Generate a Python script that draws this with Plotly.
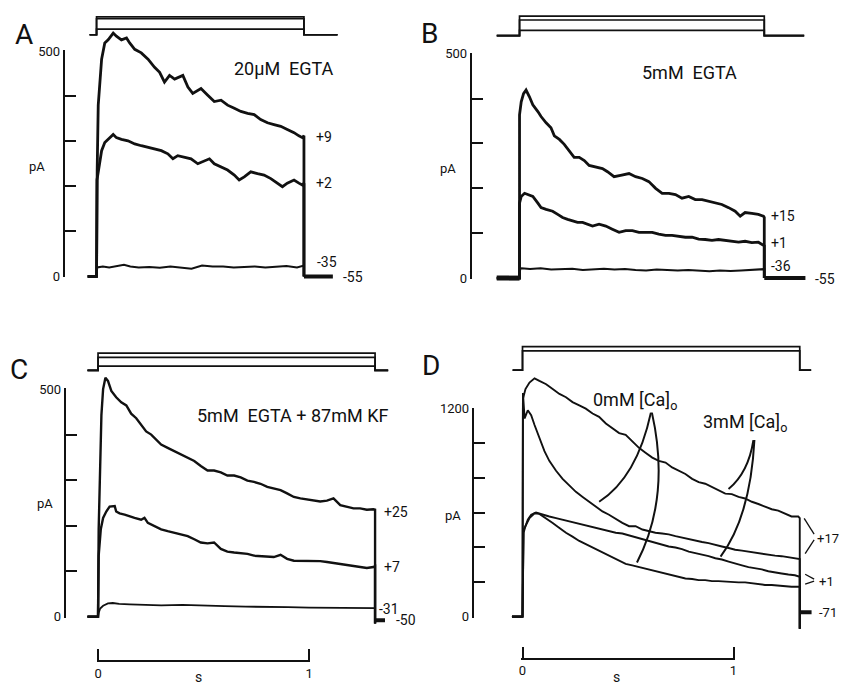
import plotly.graph_objects as go

W, H = 841, 690
FONT = "Roboto, Liberation Sans, DejaVu Sans, sans-serif"
INK = "#111111"

# ======================= DATA =======================
# ---- Panel A : 20 uM EGTA, holding -55 mV ----
A_title = "20\u00b5M\u00a0 EGTA"
A_hold_mV = -55
A_step_mV = [9, 2, -35]
A_step_end_s = 0.983
A_v_pre_s, A_v_post_s = -0.033, 1.142
A_i_pre_s, A_tail_end_s = -0.042, 1.12
A_t_p9 = [0.003, 0.008, 0.024, 0.039, 0.055, 0.079, 0.094, 0.118, 0.142, 0.157, 0.181, 0.212, 0.244, 0.275,
          0.299, 0.322, 0.346, 0.370, 0.409, 0.433, 0.456, 0.495, 0.527, 0.558, 0.590, 0.621, 0.653, 0.684,
          0.716, 0.747, 0.778, 0.810, 0.841, 0.873, 0.904, 0.936, 0.959, 0.975, 0.983]
A_i_p9 = [235, 380, 482, 518, 525, 540, 533, 525, 529, 518, 504, 496, 482, 464,
          453, 431, 446, 438, 446, 420, 406, 417, 402, 388, 391, 380, 373, 366,
          362, 359, 348, 341, 337, 333, 326, 319, 312, 308, 312]
A_t_p2 = [0.002, 0.016, 0.024, 0.039, 0.055, 0.079, 0.094, 0.118, 0.149, 0.181, 0.212, 0.244, 0.275, 0.307,
          0.338, 0.362, 0.385, 0.417, 0.448, 0.480, 0.511, 0.535, 0.558, 0.590, 0.621, 0.653, 0.676, 0.700,
          0.731, 0.763, 0.794, 0.826, 0.857, 0.881, 0.904, 0.936, 0.959, 0.975, 0.983]
A_i_p2 = [214, 257, 279, 297, 304, 315, 308, 304, 301, 294, 290, 286, 283, 279,
          272, 261, 268, 265, 261, 250, 257, 261, 250, 243, 236, 225, 214, 221,
          232, 228, 225, 217, 207, 199, 207, 214, 207, 203, 207]
A_t_m35 = [0.003, 0.03, 0.06, 0.1, 0.13, 0.16, 0.2, 0.25, 0.3, 0.35, 0.4, 0.45, 0.5, 0.55, 0.6, 0.65,
           0.7, 0.75, 0.8, 0.85, 0.9, 0.95, 0.983]
A_i_m35 = [20, 22, 20, 24, 26, 22, 20, 21, 19, 22, 20, 17, 24, 22, 22, 20, 21, 22, 20, 21, 23, 20, 24]
A_labels = ["+9", "+2", "-35", "-55"]

# ---- Panel B : 5 mM EGTA, holding -55 mV ----
B_title = "5mM\u00a0 EGTA"
B_hold_mV = -55
B_step_mV = [15, 1, -36]
B_step_end_s = 1.160
B_v_pre_s, B_v_post_s = -0.108, 1.349
B_i_pre_s, B_tail_end_s = -0.108, 1.355
B_t_p15 = [0.0, 0.008, 0.019, 0.031, 0.047, 0.063, 0.087, 0.102, 0.126, 0.149, 0.165, 0.189, 0.212, 0.236,
           0.259, 0.283, 0.307, 0.330, 0.362, 0.393, 0.417, 0.448, 0.479, 0.519, 0.550, 0.582, 0.613,
           0.645, 0.676, 0.708, 0.739, 0.770, 0.802, 0.833, 0.865, 0.896, 0.928, 0.959, 0.991, 1.022,
           1.046, 1.069, 1.101, 1.132, 1.156, 1.160]
B_i_p15 = [364, 393, 411, 419, 404, 386, 371, 360, 346, 335, 317, 309, 298, 284,
           269, 269, 262, 251, 248, 244, 237, 226, 229, 233, 226, 222, 215,
           200, 189, 189, 186, 178, 182, 175, 175, 171, 167, 164, 157, 149,
           138, 146, 144, 142, 138, 135]
B_t_p1 = [0.0, 0.008, 0.024, 0.039, 0.063, 0.087, 0.102, 0.126, 0.157, 0.181, 0.204, 0.228, 0.251, 0.275,
          0.299, 0.322, 0.346, 0.377, 0.409, 0.440, 0.472, 0.503, 0.535, 0.566, 0.597, 0.629, 0.660,
          0.692, 0.723, 0.755, 0.786, 0.818, 0.849, 0.880, 0.912, 0.943, 0.975, 1.006, 1.038, 1.069,
          1.101, 1.132, 1.156, 1.160]
B_i_p1 = [167, 182, 189, 186, 182, 167, 157, 153, 149, 142, 135, 131, 127, 124,
          124, 120, 116, 120, 116, 109, 102, 106, 106, 102, 102, 102, 98,
          95, 95, 93, 91, 91, 87, 86, 84, 86, 84, 82, 80, 82,
          79, 80, 73, 72]
B_t_m36 = [0.003, 0.01, 0.05, 0.1, 0.15, 0.2, 0.25, 0.3, 0.35, 0.4, 0.45, 0.5, 0.55, 0.6, 0.65, 0.7,
           0.75, 0.8, 0.85, 0.9, 0.95, 1.0, 1.05, 1.1, 1.16]
B_i_m36 = [20, 22, 20, 22, 19, 20, 21, 18, 20, 21, 19, 20, 18, 17, 19, 18, 17, 18, 16, 15, 17, 16, 17, 19, 20]
B_labels = ["+15", "+1", "-36", "-55"]

# ---- Panel C : 5 mM EGTA + 87 mM KF, holding -50 mV ----
C_title = "5mM\u00a0 EGTA\u00a0+\u00a087mM\u00a0KF"
C_hold_mV = -50
C_step_mV = [25, 7, -31]
C_step_end_s = 1.313
C_v_pre_s, C_v_post_s = -0.05, 1.375
C_i_pre_s, C_tail_end_s = -0.05, 1.36
C_t_p25 = [0.003, 0.009, 0.016, 0.024, 0.035, 0.047, 0.063, 0.086, 0.110, 0.134, 0.157, 0.181, 0.204, 0.228,
           0.252, 0.275, 0.299, 0.330, 0.362, 0.393, 0.425, 0.456, 0.487, 0.519, 0.550, 0.582, 0.613,
           0.645, 0.676, 0.708, 0.739, 0.770, 0.802, 0.833, 0.865, 0.896, 0.928, 0.959, 0.991, 1.022,
           1.053, 1.085, 1.116, 1.148, 1.179, 1.211, 1.242, 1.274, 1.305, 1.313]
C_i_p25 = [192, 335, 443, 500, 525, 518, 496, 482, 471, 464, 446, 436, 421, 407,
           400, 389, 378, 371, 364, 357, 349, 342, 331, 321, 321, 317, 310,
           310, 306, 299, 296, 292, 285, 281, 278, 271, 263, 260, 258, 256,
           253, 255, 260, 245, 242, 238, 238, 235, 236, 235]
C_t_p7 = [0.003, 0.013, 0.024, 0.039, 0.055, 0.079, 0.086, 0.102, 0.126, 0.149, 0.173, 0.204, 0.220, 0.236,
          0.267, 0.299, 0.330, 0.362, 0.393, 0.425, 0.456, 0.487, 0.519, 0.550, 0.582, 0.613, 0.645,
          0.676, 0.708, 0.739, 0.770, 0.802, 0.833, 0.865, 0.896, 0.928, 0.959, 0.991, 1.022, 1.053,
          1.085, 1.116, 1.148, 1.179, 1.211, 1.242, 1.274, 1.305, 1.313]
C_i_p7 = [134, 192, 217, 231, 242, 243, 231, 227, 224, 220, 217, 213, 217, 206,
          199, 192, 188, 184, 181, 177, 170, 163, 161, 163, 149, 143, 141,
          140, 138, 134, 133, 131, 131, 136, 127, 123, 123, 122, 123, 122,
          120, 118, 116, 114, 111, 109, 107, 109, 111]
C_t_m31 = [0.003, 0.01, 0.024, 0.047, 0.07, 0.1, 0.15, 0.2, 0.3, 0.4, 0.5, 0.6, 0.7, 0.8, 0.9, 1.0,
           1.1, 1.2, 1.3, 1.313]
C_i_m31 = [8, 18, 24, 29, 30, 28, 27, 26, 25, 26, 24, 23, 22, 22, 21, 20, 20, 19, 19, 19]
C_labels = ["+25", "+7", "-31", "-50"]

# ---- Panel D : 0 mM vs 3 mM [Ca]o, holding -71 mV ----
D_title_0 = "0mM\u00a0[Ca]<sub>o</sub>"
D_title_3 = "3mM\u00a0[Ca]<sub>o</sub>"
D_hold_mV = -71
D_step_mV = [17, 1]
D_step_end_s = 1.314
D_v_pre_s, D_v_post_s = -0.047, 1.368
D_i_pre_s, D_tail_end_s = -0.05, 1.37
D_t_ca3_p17 = [0.002, 0.014, 0.033, 0.057, 0.080, 0.112, 0.143, 0.175, 0.206, 0.237, 0.269, 0.300, 0.332,
               0.363, 0.395, 0.426, 0.458, 0.489, 0.520, 0.552, 0.583, 0.615, 0.646, 0.678, 0.709, 0.741,
               0.772, 0.804, 0.835, 0.866, 0.898, 0.929, 0.961, 0.992, 1.024, 1.055, 1.087, 1.118, 1.149,
               1.181, 1.212, 1.244, 1.275, 1.307, 1.314]
D_i_ca3_p17 = [1257, 1313, 1351, 1375, 1360, 1341, 1313, 1285, 1266, 1238, 1219, 1200, 1172,
               1153, 1115, 1087, 1059, 1049, 1012, 974, 946, 918, 899, 889, 861, 842,
               823, 795, 776, 767, 748, 729, 710, 707, 691, 682, 663, 650, 635,
               620, 612, 597, 578, 578, 569]
D_t_ca0_p17 = [0.002, 0.006, 0.010, 0.025, 0.041, 0.057, 0.080, 0.104, 0.127, 0.159, 0.190, 0.222, 0.253,
               0.285, 0.316, 0.348, 0.379, 0.410, 0.442, 0.473, 0.505, 0.536, 0.568, 0.599, 0.630, 0.662,
               0.693, 0.725, 0.756, 0.788, 0.819, 0.851, 0.882, 0.914, 0.945, 0.977, 1.008, 1.040, 1.071,
               1.102, 1.134, 1.165, 1.197, 1.228, 1.260, 1.291, 1.314]
D_i_ca0_p17 = [1290, 1160, 1144, 1191, 1162, 1106, 1031, 955, 899, 842, 795, 757, 720,
               691, 663, 635, 607, 588, 563, 541, 522, 522, 503, 494, 484, 480,
               475, 465, 456, 447, 437, 431, 424, 413, 405, 396, 386, 381, 375,
               371, 366, 356, 352, 349, 343, 333, 333]
D_t_ca3_p1 = [0.005, 0.014, 0.025, 0.041, 0.064, 0.096, 0.127, 0.159, 0.190, 0.222, 0.253, 0.285, 0.316,
              0.348, 0.379, 0.410, 0.442, 0.473, 0.505, 0.536, 0.568, 0.599, 0.630, 0.662, 0.693, 0.725,
              0.756, 0.788, 0.819, 0.851, 0.882, 0.914, 0.945, 0.977, 1.008, 1.040, 1.071, 1.102, 1.134,
              1.165, 1.197, 1.228, 1.260, 1.291, 1.314]
D_i_ca3_p1 = [503, 522, 560, 588, 601, 588, 578, 569, 560, 550, 541, 531, 522,
              512, 503, 494, 484, 480, 469, 462, 450, 437, 428, 418, 405, 399,
              390, 375, 367, 356, 349, 337, 330, 318, 305, 296, 286, 281, 273,
              262, 254, 249, 243, 239, 230]
D_t_ca0_p1 = [0.005, 0.014, 0.033, 0.057, 0.080, 0.112, 0.143, 0.175, 0.206, 0.237, 0.269, 0.300, 0.332,
              0.363, 0.395, 0.426, 0.458, 0.489, 0.520, 0.552, 0.583, 0.615, 0.646, 0.678, 0.709, 0.741,
              0.772, 0.804, 0.835, 0.866, 0.898, 0.929, 0.961, 0.992, 1.024, 1.055, 1.087, 1.118, 1.149,
              1.181, 1.212, 1.244, 1.275, 1.314]
D_i_ca0_p1 = [484, 522, 569, 597, 593, 569, 541, 512, 484, 462, 437, 418, 399,
              381, 362, 343, 324, 305, 296, 286, 277, 268, 258, 249, 239, 230,
              220, 217, 211, 211, 205, 205, 202, 202, 198, 198, 192, 187, 183,
              183, 179, 179, 173, 173]
D_end_dip_pA = -70
D_tail_pA = 25
D_labels = ["+17", "+1", "-71"]

# y-axis scale ticks and time scale bar
AB_ticks = [0, 100, 200, 300, 400, 500]
D_ticks = [0, 200, 400, 600, 800, 1000, 1200]
scale_ticks_s = [0, 1]

# ======================= FIGURE =======================
fig = go.Figure()
layout = {}
annotations = []
shapes = []


def xdom(l, r):
    return [l / W, r / W]


def ydom(top, bot):
    return [1 - bot / H, 1 - top / H]


def ann(text, x, y, size=13, xanchor="center"):
    annotations.append(dict(text=text, x=x / W, y=1 - y / H, xref="paper", yref="paper",
                            showarrow=False, xanchor=xanchor, yanchor="middle",
                            font=dict(family=FONT, size=size, color=INK)))


def panel(k, geo, cur, hold, steps, v_pre, v_end, v_post, i_pre, tail_end, end_val, tail_val,
          ticks, tick_txt):
    x0, sx = geo["x0"], 212.0
    zero, top, top_val = geo["zero"], geo["top"], ticks[-1]
    sy = (zero - top) / top_val
    l, r, t, b = geo["cur"]
    layout[f"xaxis{k}"] = dict(domain=xdom(l, r), range=[(l - x0) / sx, (r - x0) / sx],
                               anchor=f"y{k}", visible=False, fixedrange=True)
    layout[f"yaxis{k}"] = dict(domain=ydom(t, b), range=[(zero - b) / sy, (zero - t) / sy],
                               anchor=f"x{k}", visible=False, fixedrange=True)
    vt, vb = geo["vdom"]
    hp, vsy = geo["vhold"], geo["vsy"]
    layout[f"yaxis{k + 4}"] = dict(domain=ydom(vt, vb),
                                   range=[hold - (vb - hp) / vsy, hold + (hp - vt) / vsy],
                                   anchor=f"x{k}", visible=False, fixedrange=True)
    # ruler axis
    eps = 0.004 * top_val
    layout[f"yaxis{k + 8}"] = dict(domain=ydom(zero - (top_val + eps) * sy, zero + eps * sy),
                                   range=[-eps, top_val + eps], anchor="free",
                                   position=geo["rx"] / W, side="left", showline=True,
                                   linecolor=INK, linewidth=2, ticks="inside", ticklen=11,
                                   tickwidth=2, tickcolor=INK, tickvals=ticks, ticktext=tick_txt,
                                   tickfont=dict(family=FONT, size=13, color=INK),
                                   showgrid=False, zeroline=False, fixedrange=True)
    fig.add_trace(go.Scatter(x=[0, 0], y=[0, top_val], xaxis=f"x{k}", yaxis=f"y{k + 8}",
                             mode="lines", line=dict(width=0), opacity=0, hoverinfo="skip",
                             showlegend=False))
    # voltage protocol
    for v in steps:
        fig.add_trace(go.Scatter(x=[v_pre, 0, 0, v_end, v_end, v_post],
                                 y=[hold, hold, v, v, hold, hold],
                                 xaxis=f"x{k}", yaxis=f"y{k + 4}", mode="lines",
                                 line=dict(color=INK, width=1.7), hoverinfo="skip",
                                 showlegend=False))
    # currents
    for tt, ii, w in cur:
        xs = [i_pre, 0.0] + list(tt) + [v_end]
        ys = [0, 0] + list(ii) + [end_val]
        fig.add_trace(go.Scatter(x=xs, y=ys, xaxis=f"x{k}", yaxis=f"y{k}", mode="lines",
                                 line=dict(color=INK, width=w), hoverinfo="skip",
                                 showlegend=False))
    fig.add_trace(go.Scatter(x=[i_pre, 0.0], y=[0, 0], xaxis=f"x{k}", yaxis=f"y{k}",
                             mode="lines", line=dict(color=INK, width=geo["prew"]),
                             hoverinfo="skip", showlegend=False))
    fig.add_trace(go.Scatter(x=[v_end, tail_end], y=[tail_val, tail_val], xaxis=f"x{k}",
                             yaxis=f"y{k}", mode="lines", line=dict(color=INK, width=4),
                             hoverinfo="skip", showlegend=False))


def tick_text(ticks):
    return [str(v) if v in (ticks[0], ticks[-1]) else "" for v in ticks]


geoA = dict(x0=95, zero=275, top=45, rx=62, cur=(75, 345, 8, 292), vdom=(0, 40), vhold=28.3,
            vsy=0.286, prew=2.5)
geoB = dict(x0=520, zero=276.7, top=47.7, rx=471, cur=(490, 830, 8, 292), vdom=(0, 40),
            vhold=29.3, vsy=0.286, prew=5)
geoC = dict(x0=96.5, zero=622.3, top=390, rx=63, cur=(75, 400, 372, 645), vdom=(335, 385),
            vhold=371, vsy=0.236, prew=2)
geoD = dict(x0=523, zero=622.3, top=410, rx=473, cur=(505, 830, 372, 645), vdom=(335, 385),
            vhold=370.7, vsy=0.273, prew=2.5)

panel(1, geoA, [(A_t_p9, A_i_p9, 2.8), (A_t_p2, A_i_p2, 2.8), (A_t_m35, A_i_m35, 2.0)],
      A_hold_mV, A_step_mV, A_v_pre_s, A_step_end_s, A_v_post_s, A_i_pre_s, A_tail_end_s, 0, 0,
      AB_ticks, tick_text(AB_ticks))
panel(2, geoB, [(B_t_p15, B_i_p15, 2.8), (B_t_p1, B_i_p1, 2.8), (B_t_m36, B_i_m36, 2.0)],
      B_hold_mV, B_step_mV, B_v_pre_s, B_step_end_s, B_v_post_s, B_i_pre_s, B_tail_end_s, 0, 0,
      AB_ticks, tick_text(AB_ticks))
panel(3, geoC, [(C_t_p25, C_i_p25, 2.4), (C_t_p7, C_i_p7, 2.4), (C_t_m31, C_i_m31, 1.8)],
      C_hold_mV, C_step_mV, C_v_pre_s, C_step_end_s, C_v_post_s, C_i_pre_s, C_tail_end_s, -15, -8,
      AB_ticks, tick_text(AB_ticks))
panel(4, geoD, [(D_t_ca3_p17, D_i_ca3_p17, 1.9), (D_t_ca0_p17, D_i_ca0_p17, 1.9),
                (D_t_ca3_p1, D_i_ca3_p1, 1.9), (D_t_ca0_p1, D_i_ca0_p1, 1.9)],
      D_hold_mV, D_step_mV, D_v_pre_s, D_step_end_s, D_v_post_s, D_i_pre_s, D_tail_end_s,
      D_end_dip_pA, D_tail_pA, D_ticks, tick_text(D_ticks))

# time scale bars (C and D)
for ax, yk, x0, ypx in ((5, 3, 96.5, 668), (6, 4, 523, 665)):
    e = 0.006
    layout[f"xaxis{ax}"] = dict(domain=xdom(x0 - e * 212, x0 + (1 + e) * 212),
                                range=[scale_ticks_s[0] - e, scale_ticks_s[-1] + e],
                                anchor="free", position=1 - ypx / H, side="bottom",
                                showline=True, linecolor=INK, linewidth=2, ticks="inside",
                                ticklen=11, tickwidth=2, tickcolor=INK, tickvals=scale_ticks_s,
                                ticktext=[str(v) for v in scale_ticks_s],
                                tickfont=dict(family=FONT, size=13, color=INK),
                                showgrid=False, zeroline=False, fixedrange=True)
    fig.add_trace(go.Scatter(x=scale_ticks_s, y=[0, 0], xaxis=f"x{ax}", yaxis=f"y{yk}",
                             mode="lines", line=dict(width=0), opacity=0, hoverinfo="skip",
                             showlegend=False))
ann("s", 197, 684, 14)
ann("s", 617, 684, 14)

# panel letters, unit labels, titles
for txt, x, y in (("A", 22, 28), ("B", 430, 27), ("C", 17, 370), ("D", 431, 366)):
    ann(txt, x, y, 28)
for x, y in ((35, 163), (448, 165), (43, 507), (453, 519)):
    ann("pA", x, y, 13)
ann(A_title, 283, 63, 18)
ann(B_title, 691, 67, 18)
ann(C_title, 292, 417, 18)
ann(D_title_0, 636, 402, 18)
ann(D_title_3, 747, 425, 18)

# voltage labels next to traces
for txt, (x, y) in zip(A_labels, ((313, 133), (313, 180), (314, 260), (341, 276))):
    ann(txt, x, y, 14, "left")
for txt, (x, y) in zip(B_labels, ((771, 213), (771, 241), (771, 264), (815, 278))):
    ann(txt, x, y, 14, "left")
for txt, (x, y) in zip(C_labels, ((382, 515), (382, 572), (377, 614), (394, 626))):
    ann(txt, x, y, 14, "left")
for txt, (x, y) in zip(D_labels, ((817, 543), (819, 586), (819, 618))):
    ann(txt, x, y, 13, "left")


def P(x, y):
    return f"{x / W:.5f},{1 - y / H:.5f}"


def line_shape(x1, y1, x2, y2, w=1.3):
    shapes.append(dict(type="line", xref="paper", yref="paper", x0=x1 / W, y0=1 - y1 / H,
                       x1=x2 / W, y1=1 - y2 / H, line=dict(color=INK, width=w)))


def curve_shape(a, c, b, w=2):
    shapes.append(dict(type="path", xref="paper", yref="paper",
                       path=f"M {P(*a)} Q {P(*c)} {P(*b)}", line=dict(color=INK, width=w)))


# brackets in D
line_shape(806, 522, 816, 538)
line_shape(807, 558, 816, 544)
line_shape(807, 579, 816, 584)
line_shape(807, 589, 816, 586)
# pointer curves in D
curve_shape((652, 414), (638, 480), (600, 505))
curve_shape((653, 414), (672, 500), (638, 567))
curve_shape((755, 442), (750, 475), (730, 492))
curve_shape((756, 442), (752, 520), (722, 561))

fig.update_layout(width=W, height=H, margin=dict(l=0, r=0, t=0, b=0),
                  paper_bgcolor="white", plot_bgcolor="rgba(0,0,0,0)", showlegend=False,
                  annotations=annotations, shapes=shapes, **layout)
fig.write_html("out.html", config={"displayModeBar": False},
               post_script="document.body.style.margin='0';document.body.style.padding='0';")
